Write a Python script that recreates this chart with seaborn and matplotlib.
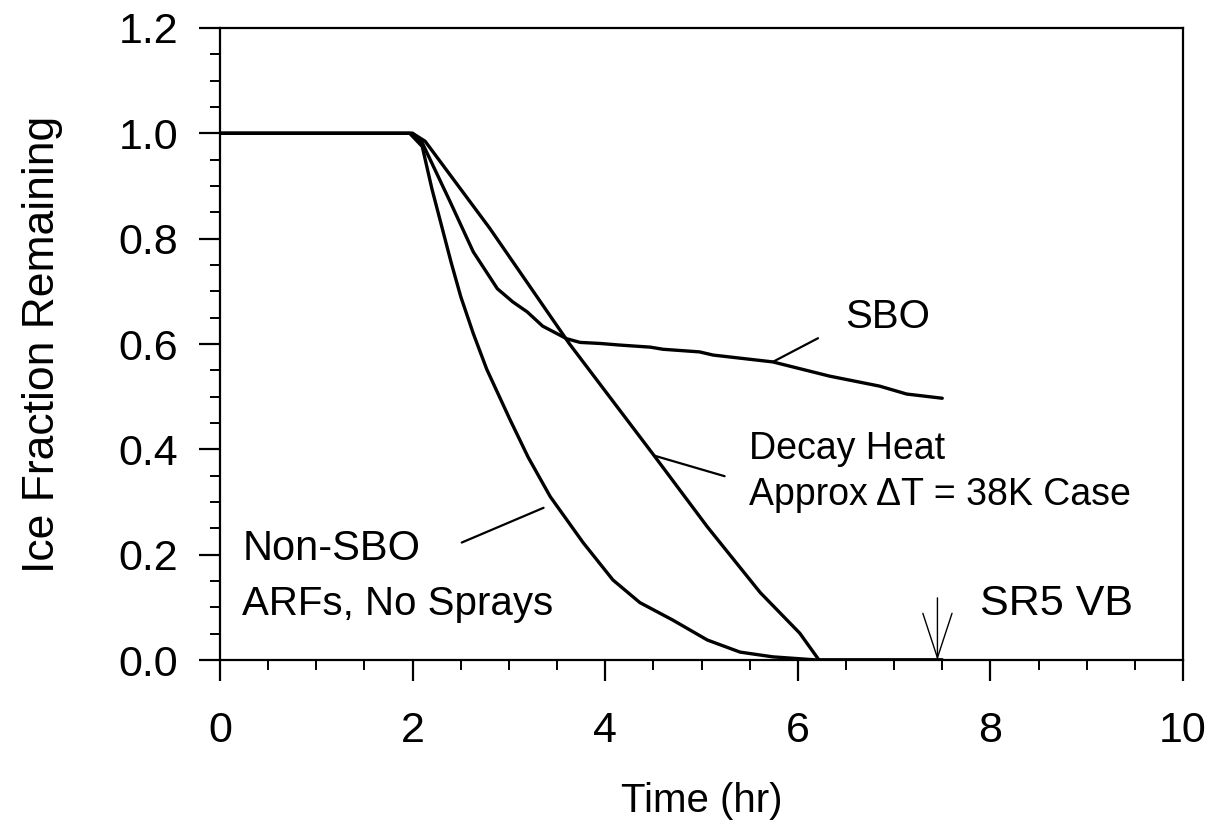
import numpy as np
import pandas as pd
import matplotlib
matplotlib.use("Agg")
import matplotlib.pyplot as plt
from matplotlib.ticker import MultipleLocator, FormatStrFormatter
import seaborn as sns

# ---- data ----
sbo_t = [0.0, 1.0, 2.0, 2.1, 2.39, 2.63, 2.88, 3.04, 3.19, 3.35, 3.6, 3.74, 3.95,
         4.15, 4.47, 4.6, 4.98, 5.12, 5.74, 6.33, 6.85, 7.13, 7.5]
sbo_f = [1.0, 1.0, 1.0, 0.982, 0.87, 0.775, 0.705, 0.68, 0.661, 0.634, 0.61, 0.603, 0.601,
         0.598, 0.594, 0.590, 0.585, 0.579, 0.566, 0.539, 0.520, 0.505, 0.497]

decay_t = [0.0, 1.0, 2.0, 2.13, 2.8, 3.63, 4.5, 5.06, 5.61, 6.02, 6.22, 7.5]
decay_f = [1.0, 1.0, 1.0, 0.985, 0.82, 0.60, 0.39, 0.253, 0.128, 0.051, 0.0, 0.0]

nonsbo_t = [0.0, 1.0, 1.97, 2.1, 2.2, 2.3, 2.4, 2.5, 2.63, 2.77, 3.01, 3.2, 3.43, 3.77,
            4.08, 4.36, 4.7, 5.06, 5.4, 5.74, 6.2, 7.5]
nonsbo_f = [1.0, 1.0, 1.0, 0.975, 0.895, 0.825, 0.755, 0.69, 0.62, 0.552, 0.457, 0.385, 0.31, 0.223,
            0.152, 0.109, 0.076, 0.038, 0.015, 0.006, 0.0, 0.0]

series_names = ["SBO", "Decay Heat", "Non-SBO"]

x_ticks = [0, 2, 4, 6, 8, 10]
y_ticks = [0.0, 0.2, 0.4, 0.6, 0.8, 1.0, 1.2]

# annotation texts (label, x, y, fontsize)
labels = [
    ("SBO", 6.49, 0.630, 29),
    ("Decay Heat", 5.49, 0.381, 27),
    ("Approx \u0394T = 38K Case", 5.49, 0.295, 27),
    ("Non-SBO", 0.23, 0.190, 30),
    ("ARFs, No Sprays", 0.23, 0.086, 29),
    ("SR5 VB", 7.89, 0.086, 31),
]
# leader lines (x0, y0, x1, y1)
leaders = [
    (5.74, 0.566, 6.21, 0.611),
    (4.51, 0.388, 5.24, 0.349),
    (3.36, 0.289, 2.51, 0.223),
]
vb_time = 7.45
vb_arrow_top = 0.118

# ---- build frame ----
df = pd.concat([
    pd.DataFrame({"t": sbo_t, "f": sbo_f, "case": series_names[0]}),
    pd.DataFrame({"t": decay_t, "f": decay_f, "case": series_names[1]}),
    pd.DataFrame({"t": nonsbo_t, "f": nonsbo_f, "case": series_names[2]}),
])

sns.set_theme(style="ticks")
plt.rcParams["font.family"] = ["Liberation Sans", "DejaVu Sans"]
plt.rcParams["axes.linewidth"] = 1.6
plt.rcParams["axes.labelcolor"] = "black"
plt.rcParams["text.color"] = "black"

fig = plt.figure(figsize=(12.17, 8.33), dpi=100)
ax = fig.add_axes([220/1217, 1 - 660/833, (1183-220)/1217, (660-28)/833])

sns.lineplot(data=df, x="t", y="f", hue="case", units="case", estimator=None,
             palette=["black"]*3, linewidth=2.4, legend=False, ax=ax, sort=False)

ax.set_xlim(0, 10)
ax.set_ylim(0, 1.2)
ax.set_xticks(x_ticks)
ax.set_yticks(y_ticks)
ax.xaxis.set_minor_locator(MultipleLocator(0.5))
ax.yaxis.set_minor_locator(MultipleLocator(0.05))
ax.yaxis.set_major_formatter(FormatStrFormatter("%.1f"))
ax.tick_params(which="major", direction="out", length=15, width=1.6,
               labelsize=31, colors="black")
ax.tick_params(axis="x", which="major", pad=22)
ax.tick_params(axis="y", which="major", pad=15)
ax.tick_params(which="minor", direction="out", length=7.5, width=1.4, colors="black")
ax.tick_params(top=False, right=False, which="both")
for s in ax.spines.values():
    s.set_visible(True)
    s.set_color("black")
    s.set_linewidth(1.6)

ax.set_xlabel("Time (hr)", fontsize=29, labelpad=22, color="black")
ax.set_ylabel("Ice Fraction Remaining", fontsize=32, labelpad=40, color="black")

for txt, x, y, fs in labels:
    ax.text(x, y, txt, fontsize=fs, ha="left", va="baseline", color="black")

for x0, y0, x1, y1 in leaders:
    ax.plot([x0, x1], [y0, y1], color="black", linewidth=1.6)

ax.annotate("", xy=(vb_time, 0.0), xytext=(vb_time, vb_arrow_top),
            arrowprops=dict(arrowstyle="->,head_length=32,head_width=10.5",
                            mutation_scale=1, color="black", linewidth=1.0,
                            shrinkA=0, shrinkB=0))

fig.savefig("out.png", dpi=100, facecolor="white")
